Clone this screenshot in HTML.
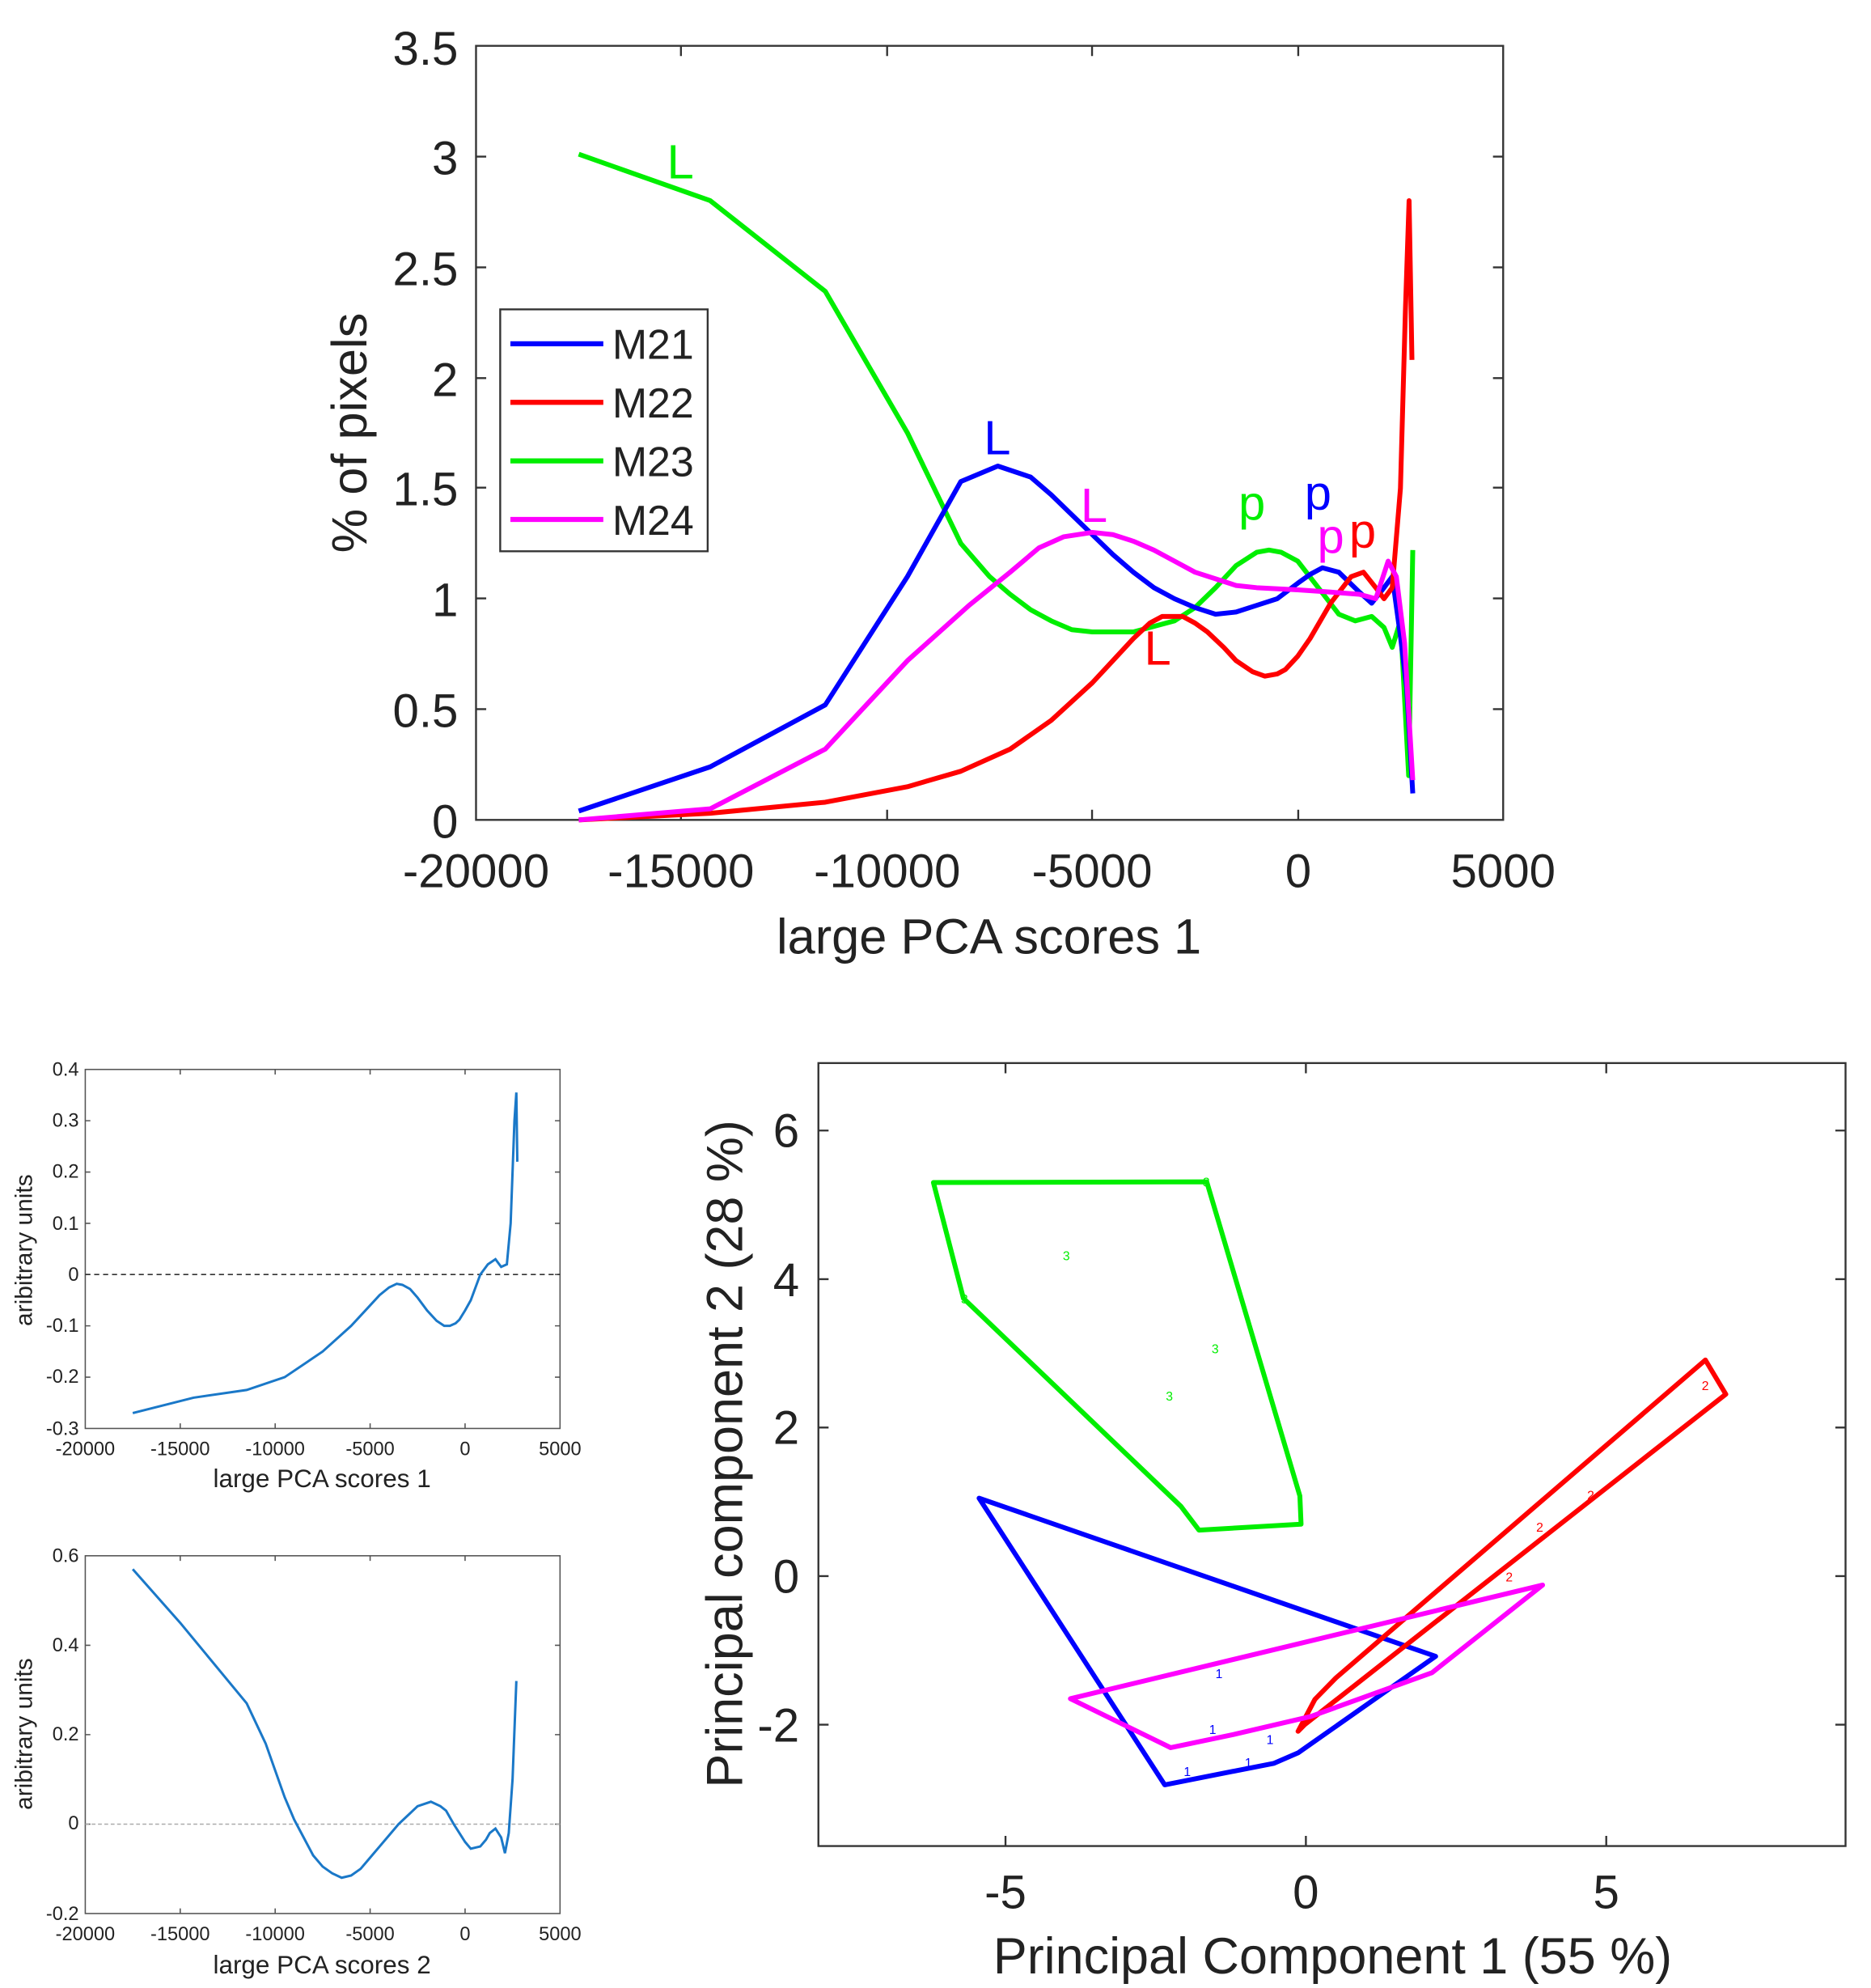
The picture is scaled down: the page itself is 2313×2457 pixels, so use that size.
<!DOCTYPE html>
<html><head><meta charset="utf-8"><style>
html,body{margin:0;padding:0;background:#fff}
svg{display:block}
text{font-family:"Liberation Sans",sans-serif;fill:#222}
</style></head><body>
<svg width="2313" height="2457" viewBox="0 0 1470 1561.5" preserveAspectRatio="none" xmlns="http://www.w3.org/2000/svg">
<rect width="1470" height="1562" fill="#fff"/>
<!-- TOP PLOT -->
<g stroke="#333" stroke-width="1.5" fill="none">
<rect x="374" y="36" width="807" height="608"/>
<path d="M374 557h8M374 470h8M374 383h8M374 297h8M374 210h8M374 123h8M1181 557h-8M1181 470h-8M1181 383h-8M1181 297h-8M1181 210h-8M1181 123h-8
M535 644v-8M697 644v-8M858 644v-8M1020 644v-8M535 36v8M697 36v8M858 36v8M1020 36v8"/>
</g>
<g font-size="37" text-anchor="end">
<text x="360" y="658">0</text><text x="360" y="571">0.5</text><text x="360" y="484">1</text><text x="360" y="397">1.5</text><text x="360" y="311">2</text><text x="360" y="224">2.5</text><text x="360" y="137">3</text><text x="360" y="51">3.5</text>
</g>
<g font-size="37" text-anchor="middle">
<text x="374" y="697">-20000</text><text x="535" y="697">-15000</text><text x="697" y="697">-10000</text><text x="858" y="697">-5000</text><text x="1020" y="697">0</text><text x="1181" y="697">5000</text>
<text x="777" y="749" font-size="39">large PCA scores 1</text>
<text transform="translate(288,340) rotate(-90)" font-size="39">% of pixels</text>
</g>
<g transform="translate(374,644) scale(0.03228,-173.714) translate(20000,0)" fill="none" stroke-width="6" stroke-linejoin="round">
<polyline vector-effect="non-scaling-stroke" stroke="#00ee00" points="-17500,3.01 -14300,2.8 -11500,2.39 -9500,1.75 -8200,1.25 -7500,1.1 -7000,1.02 -6500,0.95 -6000,0.9 -5500,0.86 -5000,0.85 -4000,0.85 -3000,0.9 -2500,0.96 -2000,1.05 -1500,1.15 -1000,1.21 -700,1.22 -400,1.21 0,1.17 500,1.05 1000,0.93 1400,0.9 1800,0.92 2100,0.87 2300,0.78 2500,0.9 2700,0.2 2800,1.22"/>
<polyline vector-effect="non-scaling-stroke" stroke="#0000ff" points="-17500,0.04 -14300,0.24 -11500,0.52 -9500,1.1 -8200,1.53 -7300,1.6 -6500,1.55 -6000,1.47 -5500,1.38 -5000,1.29 -4500,1.2 -4000,1.12 -3500,1.05 -3000,1.0 -2500,0.96 -2000,0.93 -1500,0.94 -1000,0.97 -500,1.0 0,1.07 300,1.11 600,1.14 1000,1.12 1500,1.03 1800,0.98 2100,1.05 2300,1.1 2500,0.83 2650,0.6 2800,0.12"/>
<polyline vector-effect="non-scaling-stroke" stroke="#ff0000" points="-17500,0 -14300,0.03 -11500,0.08 -9500,0.15 -8200,0.22 -7000,0.32 -6000,0.45 -5000,0.62 -4500,0.72 -4000,0.82 -3600,0.89 -3300,0.92 -2800,0.92 -2500,0.89 -2200,0.85 -1800,0.78 -1500,0.72 -1100,0.67 -800,0.65 -500,0.66 -300,0.68 0,0.74 300,0.82 800,0.98 1300,1.1 1600,1.12 1900,1.05 2100,1.0 2300,1.05 2500,1.5 2620,2.3 2710,2.8 2780,2.08"/>
<polyline vector-effect="non-scaling-stroke" stroke="#ff00ff" points="-17500,0 -14300,0.05 -11500,0.32 -9500,0.72 -8000,0.97 -7000,1.12 -6300,1.23 -5700,1.28 -5000,1.3 -4500,1.29 -4000,1.26 -3500,1.22 -3000,1.17 -2500,1.12 -2000,1.09 -1500,1.06 -1000,1.05 0,1.04 800,1.03 1500,1.02 1900,1.0 2200,1.17 2400,1.1 2600,0.8 2800,0.18"/>
</g>
<g font-size="38">
<text x="524" y="140" style="fill:#00ee00">L</text>
<text x="773" y="357" style="fill:#0000ff">L</text>
<text x="849" y="410" style="fill:#ff00ff">L</text>
<text x="899" y="522" style="fill:#ff0000">L</text>
<text x="973" y="408" style="fill:#00ee00">p</text>
<text x="1025" y="400" style="fill:#0000ff">p</text>
<text x="1035" y="434" style="fill:#ff00ff">p</text>
<text x="1060" y="430" style="fill:#ff0000">p</text>
</g>
<rect x="393" y="243" width="163" height="190" fill="#fff" stroke="#333" stroke-width="1.5"/>
<g stroke-width="4"><line x1="401" y1="270" x2="474" y2="270" stroke="#0000ff"/><line x1="401" y1="316" x2="474" y2="316" stroke="#ff0000"/><line x1="401" y1="362" x2="474" y2="362" stroke="#00ee00"/><line x1="401" y1="408" x2="474" y2="408" stroke="#ff00ff"/></g>
<g font-size="33"><text x="481" y="282">M21</text><text x="481" y="328">M22</text><text x="481" y="374">M23</text><text x="481" y="420">M24</text></g>

<!-- BOTTOM LEFT 1 -->
<g stroke="#555" stroke-width="1" fill="none">
<rect x="67" y="840" width="373" height="282"/>
<path d="M141.6 1122v-4M216.2 1122v-4M290.8 1122v-4M365.4 1122v-4M141.6 840v4M216.2 840v4M290.8 840v4M365.4 840v4
M67 880.3h4M67 920.6h4M67 960.9h4M67 1001.1h4M67 1041.4h4M67 1081.7h4M440 880.3h-4M440 920.6h-4M440 960.9h-4M440 1001.1h-4M440 1041.4h-4M440 1081.7h-4"/>
<line x1="67" y1="1001.1" x2="440" y2="1001.1" stroke="#333" stroke-dasharray="4,3"/>
</g>
<g font-size="15" text-anchor="end">
<text x="62" y="845">0.4</text><text x="62" y="885">0.3</text><text x="62" y="925">0.2</text><text x="62" y="966">0.1</text><text x="62" y="1006">0</text><text x="62" y="1046">-0.1</text><text x="62" y="1086">-0.2</text><text x="62" y="1127">-0.3</text>
</g>
<g font-size="15" text-anchor="middle">
<text x="67" y="1143">-20000</text><text x="141.6" y="1143">-15000</text><text x="216.2" y="1143">-10000</text><text x="290.8" y="1143">-5000</text><text x="365.4" y="1143">0</text><text x="440" y="1143">5000</text>
<text x="253" y="1168" font-size="20">large PCA scores 1</text>
<text transform="translate(25,982) rotate(-90)" font-size="19">aribitrary units</text>
</g>
<g transform="translate(67,1122) scale(0.01492,-402.86) translate(20000,0.3)" fill="none" stroke="#1a78c8" stroke-width="3">
<polyline vector-effect="non-scaling-stroke" points="-17500,-0.27 -14300,-0.24 -11500,-0.225 -9500,-0.2 -7500,-0.15 -6000,-0.1 -5000,-0.06 -4500,-0.04 -4000,-0.025 -3600,-0.018 -3300,-0.02 -2900,-0.028 -2500,-0.045 -2000,-0.07 -1500,-0.09 -1100,-0.1 -800,-0.1 -500,-0.095 -300,-0.088 0,-0.07 300,-0.05 800,0 1200,0.02 1600,0.03 1900,0.015 2200,0.02 2400,0.1 2600,0.3 2700,0.355 2750,0.22"/>
</g>

<!-- BOTTOM LEFT 2 -->
<g stroke="#555" stroke-width="1" fill="none">
<rect x="67" y="1222" width="373" height="281"/>
<path d="M141.6 1503v-4M216.2 1503v-4M290.8 1503v-4M365.4 1503v-4M141.6 1222v4M216.2 1222v4M290.8 1222v4M365.4 1222v4
M67 1292.3h4M67 1362.5h4M67 1432.8h4M440 1292.3h-4M440 1362.5h-4M440 1432.8h-4"/>
<line x1="67" y1="1432.8" x2="440" y2="1432.8" stroke="#aaa" stroke-dasharray="3,2"/>
</g>
<g font-size="15" text-anchor="end">
<text x="62" y="1227">0.6</text><text x="62" y="1297">0.4</text><text x="62" y="1367">0.2</text><text x="62" y="1437">0</text><text x="62" y="1508">-0.2</text>
</g>
<g font-size="15" text-anchor="middle">
<text x="67" y="1524">-20000</text><text x="141.6" y="1524">-15000</text><text x="216.2" y="1524">-10000</text><text x="290.8" y="1524">-5000</text><text x="365.4" y="1524">0</text><text x="440" y="1524">5000</text>
<text x="253" y="1550" font-size="20">large PCA scores 2</text>
<text transform="translate(25,1362) rotate(-90)" font-size="19">aribitrary units</text>
</g>
<g transform="translate(67,1503) scale(0.01492,-351.25) translate(20000,0.2)" fill="none" stroke="#1a78c8" stroke-width="3">
<polyline vector-effect="non-scaling-stroke" points="-17500,0.57 -15000,0.45 -11500,0.27 -10500,0.18 -10000,0.12 -9500,0.06 -9000,0.01 -8500,-0.03 -8000,-0.07 -7500,-0.095 -7000,-0.11 -6500,-0.12 -6000,-0.115 -5500,-0.1 -5000,-0.075 -4500,-0.05 -4000,-0.025 -3500,0 -3000,0.02 -2500,0.04 -1800,0.05 -1300,0.04 -1000,0.03 -600,0 -300,-0.02 0,-0.04 300,-0.055 800,-0.05 1100,-0.035 1300,-0.02 1600,-0.01 1900,-0.03 2100,-0.065 2300,-0.02 2500,0.1 2700,0.32"/>
</g>

<!-- RIGHT PLOT -->
<g stroke="#333" stroke-width="1.5" fill="none">
<rect x="643" y="835" width="807" height="615"/>
<path d="M790 1450v-8M1026 1450v-8M1262 1450v-8M790 835v8M1026 835v8M1262 835v8
M643 888h8M643 1004.7h8M643 1121.3h8M643 1238h8M643 1354.7h8M1450 888h-8M1450 1004.7h-8M1450 1121.3h-8M1450 1238h-8M1450 1354.7h-8"/>
</g>
<g font-size="37" text-anchor="end">
<text x="628" y="901">6</text><text x="628" y="1018">4</text><text x="628" y="1134">2</text><text x="628" y="1251">0</text><text x="628" y="1368">-2</text>
</g>
<g font-size="37" text-anchor="middle">
<text x="790" y="1499">-5</text><text x="1026" y="1499">0</text><text x="1262" y="1499">5</text>
<text x="1047" y="1550" font-size="40">Principal Component 1 (55 %)</text>
<text transform="translate(583,1142) rotate(-90)" font-size="40">Principal component 2 (28 %)</text>
</g>
<g transform="translate(1026,1238) scale(47.2,-58.33)" fill="none" stroke-width="6" stroke-linejoin="round">
<polygon vector-effect="non-scaling-stroke" stroke="#00ee00" points="-2.08,0.94 -1.78,0.62 -0.08,0.7 -0.1,1.08 -1.65,5.31 -6.2,5.3 -5.7,3.74"/>
<polygon vector-effect="non-scaling-stroke" stroke="#0000ff" points="-5.44,1.05 2.16,-1.08 -0.13,-2.38 -0.53,-2.52 -2.35,-2.81"/>
<polygon vector-effect="non-scaling-stroke" stroke="#ff0000" points="6.65,2.91 6.99,2.45 -0.02,-2.0 -0.13,-2.09 0.15,-1.66 0.5,-1.37"/>
<polygon vector-effect="non-scaling-stroke" stroke="#ff00ff" points="-3.92,-1.65 3.94,-0.12 2.1,-1.3 0.08,-1.89 -1.19,-2.13 -2.25,-2.31"/>
</g>
<g font-size="10">
<text x="835" y="990" style="fill:#00ee00">3</text><text x="952" y="1063" style="fill:#00ee00">3</text><text x="916" y="1100" style="fill:#00ee00">3</text><text x="945" y="932" style="fill:#00ee00">3</text><text x="755" y="1024" style="fill:#00ee00">3</text>
<text x="955" y="1318" style="fill:#0000ff">1</text><text x="950" y="1362" style="fill:#0000ff">1</text><text x="995" y="1370" style="fill:#0000ff">1</text><text x="930" y="1395" style="fill:#0000ff">1</text><text x="978" y="1388" style="fill:#0000ff">1</text>
<text x="1207" y="1203" style="fill:#ff0000">2</text><text x="1247" y="1178" style="fill:#ff0000">2</text><text x="1183" y="1242" style="fill:#ff0000">2</text><text x="1337" y="1092" style="fill:#ff0000">2</text>
</g>
</svg>
</body></html>
